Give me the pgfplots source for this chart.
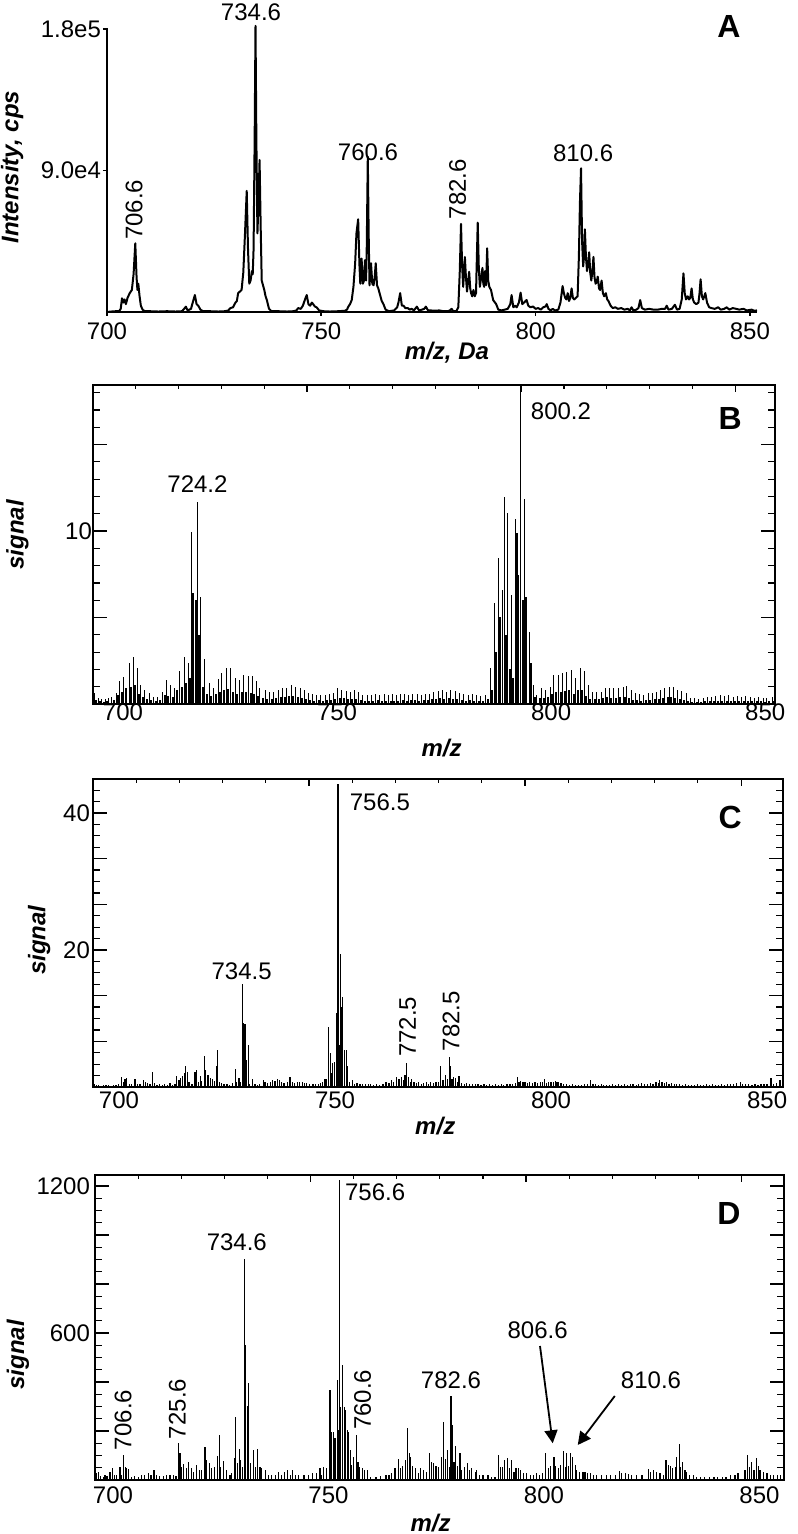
\documentclass[border=0pt]{standalone}
\usepackage{fontspec}
\setmainfont{Liberation Sans}
\usepackage{pgfplots}
\pgfplotsset{compat=1.18}
\usetikzlibrary{arrows.meta}
\newcommand{\fs}{\fontsize{12}{14}\selectfont}
\newcommand{\pl}{\fontsize{16}{18}\selectfont\bfseries}
\pgfplotsset{
 common/.style={scale only axis, enlargelimits=false,
   tick label style={font=\fs}, label style={font=\fs\bfseries\itshape},
   /pgf/number format/assume math mode=true,
   /pgf/number format/1000 sep={}},
 boxed/.style={common, axis line style={line width=0.8pt},
   xtick={700,750,800,850}, minor xtick={700,710,...,860},
   xtick pos=right, xticklabel pos=left,
   ytick pos=both, yticklabel pos=left,
   tick align=inside, major tick length=7pt, minor tick length=3.5pt,
   tick style={line width=0.6pt, black},
   xtick style={/pgfplots/major tick length=3.5pt,/pgfplots/minor tick length=2pt},
   extra y tick labels={}},
}
\begin{document}
\begin{tikzpicture}[x=1pt,y=1pt]
% ---------------- A ----------------
\begin{axis}[common, at={(53.5pt,-156pt)}, anchor=south west, width=325pt, height=142pt,
  xmin=700, xmax=851.66, ymin=0, ymax=180.6, clip=false,
  axis lines=left, axis line style={-, line width=0.9pt},
  tick align=outside, major tick length=2pt, tick style={line width=0.8pt, black},
  xtick={700,750,800,850}, ytick={90,180}, yticklabels={9.0e4,1.8e5},
  yticklabel style={xshift=2.5pt},
  xlabel={m/z, Da}, xlabel style={at={(axis description cs:0.523,-0.144)}, anchor=center},
  ylabel={Intensity, cps}, ylabel style={at={(axis description cs:-0.146,0.51)}, anchor=center}]
\addplot[black, line width=1pt, line join=round] table {
x y
700.0 0
701.0 0.3
702.0 0.5
702.8 0.5
703.2 2
703.5 8.7
703.8 6
704.1 8
704.4 5
704.8 9
705.3 12
705.8 14
706.2 24
706.6 43.7
706.9 22
707.1 14
707.3 18
707.6 10
707.9 4
708.3 1.5
708.8 0.5
710.0 0.5
712.0 0.3
714.0 0.5
716.0 0.3
717.5 0.5
718.0 2
718.4 3.4
718.8 1
719.6 2
720.0 6
720.5 10.8
720.9 5
721.3 4
721.8 1.5
722.4 0.5
724.0 0.5
726.0 0.3
727.5 0.5
728.3 1
728.8 2.5
729.4 3
729.9 5.7
730.3 7
730.6 12
731.0 13
731.4 14
731.8 25
732.2 50
732.6 77
732.9 40
733.2 18
733.5 20
733.8 26
734.0 24
734.2 40
734.45 110
734.65 182
734.85 110
735.1 50
735.35 70
735.6 96.7
735.85 55
736.1 20
736.4 17
736.7 14
737.0 10
737.3 7.6
737.8 2
738.4 0.5
740.0 0.5
742.0 0.3
743.5 0.5
744.2 1
744.6 2.5
745.2 2
745.7 4
746.2 8
746.6 10.8
747.0 5
747.4 4
747.8 6
748.1 5
748.5 3.5
748.9 3
749.5 1
750.5 0.5
752.0 0.3
754.0 0.5
755.5 0.8
756.0 1.5
756.3 3.4
756.7 5
757.1 7.6
757.5 16
757.9 31
758.2 50
758.6 59
758.9 30
759.1 18
759.4 34
759.7 18
759.95 20
760.2 33
760.45 20
760.6 40
760.85 98.8
761.05 50
761.25 17
761.6 31
761.9 18
762.2 17
762.45 22
762.7 31
763.0 17
763.3 15
763.7 11
764.1 7
764.5 5
765.0 1.5
765.8 0.5
767.0 1
767.7 3
768.0 6
768.4 12
768.8 4
769.2 4
769.6 2.5
770.2 2.5
770.6 1.5
771.1 2
771.6 1
772.3 3.4
772.8 1
773.5 1.5
774.0 2
774.4 3.4
774.9 1
775.5 1
776.5 0.8
777.5 1
778.5 0.5
779.5 0.5
780.0 1
780.4 2
780.8 0.5
781.5 0.5
781.97 3
782.3 25
782.6 56
782.85 30
783.1 16
783.3 25
783.5 35
783.75 22
784.0 13
784.2 18
784.5 25.6
784.75 15
784.95 12
785.2 10
785.5 14
785.8 10
786.1 12
786.3 35
786.5 56.8
786.75 28
787.0 16
787.3 22
787.6 28
787.8 18
788.0 16
788.2 26
788.45 17
788.7 40.5
788.95 20
789.2 16
789.6 14
790.1 7.6
790.8 5
791.3 1.5
792.0 1
792.8 1.5
793.5 2
794.1 5
794.4 10.8
794.8 3
795.2 4
795.6 3
796.1 6
796.5 12.3
796.9 5
797.3 6
797.9 7.6
798.3 4
798.8 3
799.4 3.5
800.0 2
800.6 2.5
801.2 1.5
801.8 3
802.3 3.5
802.6 5
803.0 2
803.5 1
804.0 2
804.5 1
805.3 1.5
805.8 6
806.3 16.5
806.6 12
806.9 9
807.2 8
807.5 12
807.8 7
808.1 9
808.4 15
808.7 9
809.0 8
809.4 9
809.8 10
810.1 35
810.35 70
810.6 91.4
810.85 45
811.1 29
811.3 35
811.5 52.6
811.75 35
812.0 26
812.25 30
812.5 38
812.75 25
813.0 20
813.25 26
813.5 35
813.75 22
814.0 18
814.25 19
814.5 22.5
814.8 15
815.05 14
815.4 20
815.7 12
816.0 10
816.4 12
816.7 8
817.0 7
817.5 4
818.0 2.5
818.6 3
819.2 2
820.0 2.5
820.7 1.5
821.5 2
822.0 1
822.4 3
822.8 1
823.5 1.5
824.0 2.5
824.4 7.6
824.8 2.5
825.5 1.5
826.5 2
827.5 1.5
828.5 1.5
829.5 2
830.2 2
830.6 4
831.0 1.5
831.8 2
832.5 4.6
833.0 1.5
833.6 2
834.1 8
834.5 24.6
834.8 12
835.1 8
835.5 10
835.8 8
836.1 9
836.4 15
836.7 8
837.0 6
837.5 5
838.0 6
838.25 12
838.5 20.8
838.8 10
839.1 8
839.6 12
840.0 6
840.5 3
841.0 2.5
841.8 2
842.6 3
843.2 1.5
844.0 2
844.6 3
845.2 1.5
846.0 2.5
846.8 2
847.5 1.5
848.5 2
849.3 1
850.4 1.5
851.0 0.8
851.66 1
};
\node[font=\fs] at (axis cs:733.6,190.5) {734.6};
\node[font=\fs] at (axis cs:760.9,101.8) {760.6};
\node[font=\fs] at (axis cs:811.1,101.1) {810.6};
\node[font=\fs, rotate=90] at (axis cs:706.3,64.9) {706.6};
\node[font=\fs, rotate=90] at (axis cs:781.8,78.2) {782.6};
\node[font=\pl] at (axis cs:845.1,181.3) {A};
\end{axis}
% ---------------- B ----------------
\begin{axis}[boxed, at={(46.5pt,-352pt)}, anchor=south west, width=341pt, height=159.5pt,
  xmin=700, xmax=859.3, ymin=0, ymax=18.44,
  ytick={10}, extra y ticks={5,15}, minor ytick={0,1,...,18},
  xticklabel style={xshift=15pt, yshift=3.5pt}, yticklabel style={xshift=3pt},
  xlabel={m/z}, xlabel style={at={(axis description cs:0.511,-0.138)}, anchor=center},
  ylabel={signal}, ylabel style={at={(axis description cs:-0.111,0.53)}, anchor=center}]
\addplot[ycomb, black, line width=0.5pt] table {
x y
700.3 0.62
701.2 0.33
702.0 0.27
703.0 0.27
703.6 0.33
704.4 0.42
705.4 0.62
706.3 1.35
707.2 1.54
708.5 2.39
709.4 2.74
710.4 2.06
711.1 1.10
712.1 0.81
713.1 0.62
714.1 0.42
715.0 0.39
716.3 0.71
717.2 1.38
718.1 1.10
719.1 0.91
720.3 1.93
721.3 2.70
722.3 2.39
723.1 9.96
724.5 11.7
725.2 6.2
726.0 2.62
727.2 1.19
728.1 0.91
729.3 1.45
730.1 1.77
731.1 2.06
732.0 2.06
733.2 1.48
734.2 1.38
735.1 1.67
736.3 1.62
737.2 1.62
738.2 1.35
739.0 0.91
740.2 0.81
741.2 0.71
742.1 0.71
743.3 0.81
744.3 0.91
745.2 0.91
746.3 1.10
747.2 1.00
748.4 0.91
749.3 0.81
750.3 0.62
751.2 0.56
752.2 0.52
753.2 0.52
754.2 0.52
755.2 0.56
756.1 0.62
757.1 0.91
758.1 0.81
759.1 0.77
760.1 0.71
761.0 0.81
762.0 0.71
763.0 0.52
764.0 0.52
765.0 0.52
766.0 0.55
767.0 0.52
768.0 0.55
769.0 0.52
770.0 0.55
770.8 0.52
771.8 0.55
772.8 0.6
773.8 0.5
774.7 0.55
775.7 0.6
776.7 0.5
777.7 0.55
778.7 0.6
779.6 0.7
780.6 0.75
781.6 0.8
782.6 0.7
783.6 0.8
784.6 0.75
785.6 0.65
786.6 0.55
787.6 0.5
788.6 0.55
789.6 0.5
790.6 0.45
791.6 0.5
792.9 2.06
793.8 5.82
794.7 8.42
795.6 6.59
796.0 11.98
796.9 11.06
797.8 6.3
798.8 10.7
799.4 7.46
799.9 19
800.9 11.85
802.0 4.18
802.9 1.10
803.7 0.5
804.8 0.9
805.8 0.8
806.8 1.0
807.6 1.68
808.7 1.7
809.7 1.77
810.7 1.87
811.8 1.97
812.8 1.48
813.8 2.06
814.8 1.93
815.7 1.1
816.7 0.7
817.7 0.7
818.7 0.7
819.6 0.9
820.6 0.95
821.6 0.9
822.7 0.9
823.8 1.0
824.7 1.04
825.7 0.81
826.6 0.62
827.6 0.58
828.6 0.52
829.8 0.62
830.7 0.62
831.7 0.71
832.6 0.81
833.6 0.91
834.7 1.0
835.6 0.96
836.5 0.81
837.5 0.77
838.6 0.62
839.5 0.33
840.5 0.33
841.5 0.3
842.5 0.35
843.5 0.4
844.5 0.4
845.5 0.45
846.5 0.5
847.5 0.45
848.5 0.5
849.6 0.42
850.5 0.45
851.5 0.4
852.5 0.45
853.5 0.42
854.5 0.35
855.5 0.4
856.5 0.35
857.4 0.33
858.6 0.38
};
\addplot[ycomb, black, line width=1pt] table {
x y
700.8 0.25
701.6 0.15
702.5 0.12
703.3 0.15
704.9 0.25
705.8 0.5
706.8 0.7
707.7 0.91
708.9 1.0
709.9 1.1
710.8 0.6
711.6 0.4
712.6 0.3
713.6 0.25
714.6 0.2
715.6 0.25
716.8 0.5
717.6 0.45
718.6 0.4
719.7 0.8
720.8 1.0
721.8 1.2
722.7 1.5
723.4 6.4
724.1 6.0
724.8 4.0
725.6 1.0
726.6 0.6
727.6 0.45
728.7 0.6
729.7 0.7
730.6 0.8
731.6 0.85
732.6 0.7
733.7 0.6
734.7 0.7
735.7 0.7
736.8 0.65
737.7 0.6
738.6 0.45
739.6 0.35
740.7 0.3
741.7 0.3
742.7 0.35
743.8 0.4
744.8 0.4
745.8 0.45
746.8 0.45
747.8 0.4
748.9 0.35
749.8 0.3
750.8 0.25
751.7 0.2
752.7 0.22
753.7 0.2
754.7 0.22
755.7 0.25
756.6 0.3
757.6 0.35
758.6 0.35
759.6 0.3
760.6 0.3
761.5 0.3
762.5 0.25
763.5 0.2
764.5 0.2
765.5 0.2
766.5 0.22
767.5 0.2
768.5 0.2
769.5 0.2
770.4 0.2
771.3 0.2
772.3 0.22
773.3 0.2
774.2 0.25
775.2 0.22
776.2 0.2
777.2 0.22
778.2 0.25
779.1 0.3
780.1 0.3
781.1 0.35
782.1 0.3
783.1 0.35
784.1 0.3
785.1 0.3
786.1 0.25
787.1 0.2
788.1 0.22
789.1 0.2
790.1 0.2
791.1 0.2
792.2 0.3
793.3 0.8
794.2 3.0
795.1 5.05
796.4 4.0
797.3 2.0
798.2 1.5
799.0 9.86
800.4 6.0
801.2 6.2
802.3 2.35
803.3 0.4
804.3 0.35
805.3 0.35
806.3 0.4
807.2 0.6
808.2 0.7
809.2 0.7
810.2 0.75
811.2 0.8
812.3 0.6
813.3 0.8
814.3 0.8
815.2 0.45
816.2 0.3
817.2 0.3
818.2 0.3
819.1 0.35
820.1 0.4
821.1 0.35
822.2 0.35
823.2 0.4
824.2 0.4
825.2 0.35
826.1 0.25
827.1 0.22
828.1 0.2
829.2 0.22
830.2 0.25
831.2 0.3
832.1 0.3
833.1 0.35
834.2 0.4
835.1 0.4
836.0 0.35
837.0 0.3
838.0 0.25
839.0 0.15
840.0 0.12
841.0 0.12
842.0 0.12
843.0 0.15
844.0 0.15
845.0 0.2
846.0 0.2
847.0 0.2
848.0 0.2
849.0 0.2
850.0 0.2
851.0 0.15
852.0 0.2
853.0 0.15
854.0 0.15
855.0 0.15
856.0 0.15
857.0 0.12
858.0 0.15
859.0 0.15
};
\node[font=\fs] at (axis cs:724.4,12.7) {724.2};
\node[font=\fs] at (axis cs:809.3,16.9) {800.2};
\node[font=\pl] at (axis cs:848.8,16.5) {B};
\end{axis}
% ---------------- C ----------------
\begin{axis}[boxed, at={(46.5pt,-543.5pt)}, anchor=south west, width=345pt, height=154pt,
  xmin=700, xmax=859.7, ymin=0, ymax=44.96,
  ytick={20,40}, extra y ticks={6.6667,13.3333,26.6667,33.3333}, minor ytick={0,1.66667,...,45},
  xticklabel style={xshift=13pt, yshift=1pt}, yticklabel style={xshift=2pt},
  xlabel={m/z}, xlabel style={at={(axis description cs:0.496,-0.127)}, anchor=center},
  ylabel={signal}, ylabel style={at={(axis description cs:-0.078,0.477)}, anchor=center}]
\addplot[ycomb, black, line width=0.6pt] table {
x y
700.3 0.5
700.8 0.3
701.3 0.25
701.9 0.2
702.5 0.3
703.0 0.25
703.6 0.3
704.2 0.2
704.8 0.3
705.3 0.25
705.9 0.4
706.6 1.5
707.0 0.8
707.4 1.2
707.8 1.3
708.4 0.4
708.9 0.5
709.7 1.1
710.3 0.5
710.9 0.4
711.7 1.0
712.2 0.7
712.7 0.6
713.2 0.4
713.7 2.2
714.2 0.6
714.8 0.3
715.4 0.4
716.0 0.3
716.6 0.4
717.3 0.35
717.8 0.6
718.4 0.3
719.0 0.5
719.4 1.6
719.9 1.0
720.3 1.3
720.7 1.6
721.1 2.1
721.5 3.0
721.8 2.2
722.2 0.8
722.9 0.5
723.6 2.2
723.9 2.5
724.4 0.8
724.8 1.6
725.2 0.9
725.8 4.5
726.1 2.5
726.6 1.75
727.2 1.3
727.6 1.1
728.1 0.9
728.5 3.0
728.8 5.4
729.3 0.8
729.8 0.6
730.3 0.5
731.0 0.4
731.6 0.3
732.2 0.6
732.9 2.7
733.3 0.8
733.8 1.3
734.1 0.8
734.6 15.0
734.9 9.3
735.2 9.2
735.6 3.9
735.9 6.1
736.3 0.5
736.9 1.1
737.5 0.4
738.0 0.3
738.6 0.5
739.4 1.0
739.8 0.8
740.3 0.6
741.0 0.8
741.6 1.0
742.1 0.9
742.7 1.1
743.2 1.0
743.6 0.8
744.2 0.6
745.0 0.8
745.6 1.4
746.1 0.8
746.7 0.6
747.3 0.8
747.8 0.7
748.4 0.8
748.9 0.6
749.5 0.6
750.2 0.5
750.9 0.4
751.5 0.5
752.1 0.4
752.7 0.6
753.2 0.7
753.7 1.1
754.1 1.2
754.5 8.8
754.9 4.9
755.2 2.0
755.5 3.5
755.9 3.7
756.4 10.8
756.7 44.2
757.0 6.1
757.2 19.4
757.6 11.7
757.8 13.2
758.2 5.4
758.6 5.4
758.9 3.0
759.4 0.8
760.0 1.0
760.5 0.5
761.1 0.6
761.8 0.5
762.4 0.4
763.0 0.5
763.7 0.4
764.3 0.5
765.0 0.3
765.7 0.4
766.4 0.3
767.1 0.5
767.8 0.7
768.5 0.6
769.1 1.0
769.6 0.8
770.3 1.5
770.8 1.2
771.4 1.5
771.8 1.0
772.2 1.75
772.6 3.55
773.1 1.4
773.5 0.8
773.8 1.1
774.3 0.8
774.8 0.6
775.4 0.8
776.0 0.5
776.5 0.6
777.1 0.7
777.6 0.5
778.2 0.8
778.8 0.6
779.4 0.7
780.0 0.8
780.5 3.0
781.0 1.0
781.6 1.75
782.1 1.2
782.5 4.4
782.8 3.0
783.1 1.2
783.4 1.5
783.9 1.3
784.3 0.8
784.7 1.6
785.3 0.6
785.9 0.5
786.5 0.6
787.1 0.5
787.8 0.4
788.5 0.5
789.1 0.4
789.8 0.3
790.5 0.4
791.1 0.3
791.8 0.4
792.5 0.3
793.1 0.4
793.8 0.3
794.5 0.5
795.1 0.3
795.8 0.4
796.5 0.5
797.1 0.4
797.7 0.6
798.2 1.5
798.6 0.8
799.0 0.9
799.5 0.7
800.0 0.8
800.5 0.6
801.1 0.7
801.7 0.6
802.3 0.7
802.9 0.6
803.5 0.8
804.0 0.7
804.5 1.1
805.0 0.6
805.5 0.7
806.0 0.8
806.5 0.7
807.0 0.9
807.4 0.8
807.8 0.7
808.3 0.6
808.9 0.5
809.6 0.4
810.3 0.3
811.0 0.4
811.7 0.3
812.4 0.35
813.1 0.3
813.8 0.4
814.5 0.5
815.2 1.0
815.7 0.4
816.3 0.5
817.0 0.3
817.6 0.4
818.2 0.3
818.9 0.35
819.6 0.3
820.3 0.4
821.0 0.3
821.7 0.4
822.4 0.3
823.0 0.5
823.7 0.3
824.4 0.4
825.0 0.5
825.7 0.3
826.3 0.4
827.0 0.6
827.7 0.4
828.4 0.5
829.0 0.6
829.6 0.5
830.3 0.7
830.8 0.6
831.2 1.0
831.7 0.8
832.2 0.6
832.8 0.7
833.3 0.5
833.9 0.6
834.5 0.5
835.1 0.4
835.8 0.5
836.4 0.3
837.1 0.4
837.8 0.3
838.5 0.35
839.2 0.3
839.9 0.4
840.6 0.3
841.3 0.35
842.0 0.4
842.7 0.3
843.4 0.4
844.1 0.3
844.8 0.35
845.5 0.4
846.2 0.3
846.9 0.5
847.6 0.4
848.3 0.5
849.0 0.6
849.8 0.8
850.4 0.5
851.1 0.4
851.8 0.5
852.5 0.3
853.2 0.4
853.9 0.3
854.6 0.5
855.3 0.4
856.0 0.5
856.9 1.3
857.5 0.4
858.2 0.6
859.0 1.0
859.5 1.5
};
\node[font=\fs] at (axis cs:766.4,41.6) {756.5};
\node[font=\fs] at (axis cs:734.4,16.9) {734.5};
\node[font=\fs, rotate=90] at (axis cs:772.8,8.8) {772.5};
\node[font=\fs, rotate=90] at (axis cs:782.9,9.6) {782.5};
\node[font=\pl] at (axis cs:847.5,39.4) {C};
\end{axis}
% ---------------- D ----------------
\begin{axis}[boxed, at={(47.5pt,-740pt)}, anchor=south west, width=344.5pt, height=152.5pt,
  xmin=700, xmax=859.86, ymin=0, ymax=1245,
  ytick={600,1200}, extra y ticks={200,400,800,1000}, minor ytick={0,50,...,1250},
  xticklabel style={xshift=9pt}, yticklabel style={xshift=1pt},
  xlabel={m/z}, xlabel style={at={(axis description cs:0.487,-0.141)}, anchor=center},
  ylabel={signal}, ylabel style={at={(axis description cs:-0.112,0.41)}, anchor=center}]
\addplot[ycomb, black, line width=0.6pt] table {
x y
700.4 27
700.8 34
701.3 15
701.9 14
702.3 20
702.8 15
703.5 34
704.0 48
704.5 20
705.0 22
705.8 52
706.1 20
706.6 102
707.0 54
707.3 48
707.7 45
708.5 14
709.2 15
710.0 14
710.7 20
711.5 20
712.4 27
713.0 20
713.7 41
714.3 20
715.0 16
715.8 16
716.5 20
717.4 20
718.2 20
718.8 15
719.3 152
719.7 109
720.1 54
720.6 65
721.2 48
721.7 75
722.3 48
722.8 34
723.6 61
724.2 41
724.7 41
725.5 133
725.9 82
726.5 68
727.1 48
727.8 54
728.5 98
728.8 184
729.2 54
729.8 79
730.5 41
731.3 20
731.7 27
732.3 88
732.6 256
733.0 68
733.5 125
733.8 82
734.2 54
734.6 901
735.0 551
735.3 302
735.7 395
736.0 68
736.7 122
737.2 54
737.7 125
738.3 54
738.7 48
739.5 41
740.2 20
741.0 20
741.8 20
742.5 34
743.3 20
743.9 34
744.7 41
745.3 20
745.9 41
746.5 20
747.3 20
748.5 20
749.6 20
750.5 27
751.3 27
752.2 48
752.6 20
753.0 54
753.8 48
754.5 367
754.8 197
755.3 197
755.7 170
756.2 408
756.45 204
756.7 1225
757.0 299
757.5 469
757.9 299
758.2 286
758.5 204
758.9 197
759.2 122
759.6 61
760.0 95
760.6 184
761.0 75
761.4 54
762.0 48
762.6 41
763.2 41
764.0 14
765.2 14
766.3 15
767.5 20
768.2 20
768.8 27
769.6 48
770.5 84
770.9 48
771.4 57
772.1 82
772.5 211
772.9 109
773.2 95
773.7 57
774.3 48
775.0 27
775.6 48
776.2 41
777.0 34
777.6 109
778.1 75
778.6 68
779.1 57
779.7 54
780.4 95
780.8 238
781.3 84
781.7 122
782.2 54
782.6 343
782.9 224
783.3 75
783.7 139
784.1 57
784.7 112
785.1 41
785.7 54
786.4 71
786.9 41
787.4 48
788.2 34
788.6 41
789.3 20
790.0 20
791.2 20
792.0 14
792.8 14
793.6 102
794.1 54
794.6 52
795.1 82
795.7 88
796.2 48
796.7 82
797.2 34
797.7 48
798.2 48
798.8 41
799.4 27
800.2 27
801.0 20
801.7 20
802.4 27
803.2 20
803.9 27
804.6 112
805.2 48
805.7 57
806.5 95
806.9 57
807.5 48
808.0 61
808.7 120
809.1 54
809.4 109
809.9 57
810.4 112
810.8 95
811.4 61
811.8 41
812.5 34
813.2 34
813.7 34
814.2 30
814.9 27
815.6 20
816.4 20
817.5 20
818.6 20
819.6 20
820.8 20
821.7 37
822.2 27
823.0 27
823.7 23
824.5 20
825.7 20
826.9 20
828.4 44
828.9 34
829.5 41
830.3 34
831.1 27
831.9 20
832.5 82
833.0 61
833.6 57
834.0 48
834.6 54
835.0 95
835.6 146
835.9 54
836.3 75
836.9 41
837.3 34
837.9 20
838.8 20
839.6 14
840.5 14
841.5 14
842.6 14
843.6 14
844.5 14
845.5 14
846.4 14
847.5 20
848.5 20
849.2 27
850.8 41
851.4 102
851.9 54
852.4 75
852.9 41
853.4 88
853.9 57
854.3 41
855.1 34
855.9 27
856.7 20
857.5 20
858.3 20
859.1 20
859.7 20
};
\node[font=\fs] at (axis cs:765.0,1173.6) {756.6};
\node[font=\fs] at (axis cs:732.9,969.5) {734.6};
\node[font=\fs, rotate=90] at (axis cs:706.5,245) {706.6};
\node[font=\fs, rotate=90] at (axis cs:719.1,290) {725.6};
\node[font=\fs, rotate=90] at (axis cs:762.1,327) {760.6};
\node[font=\fs] at (axis cs:782.6,408) {782.6};
\node[font=\fs] at (axis cs:802.7,612) {806.6};
\node[font=\fs] at (axis cs:829.0,408) {810.6};
\node[font=\pl] at (axis cs:847.1,1086) {D};
\draw[line width=0.9pt, -{Triangle[length=6.5pt,width=6.5pt]}] (axis cs:803.25,547) -- (axis cs:806.2,150);
\draw[line width=0.9pt, -{Triangle[length=6.5pt,width=6.5pt]}] (axis cs:820.6,343) -- (axis cs:812.0,143);
\end{axis}
\pgfresetboundingbox
\path[use as bounding box] (0pt,0pt) rectangle (398.5pt,-767pt);
\end{tikzpicture}
\end{document}
